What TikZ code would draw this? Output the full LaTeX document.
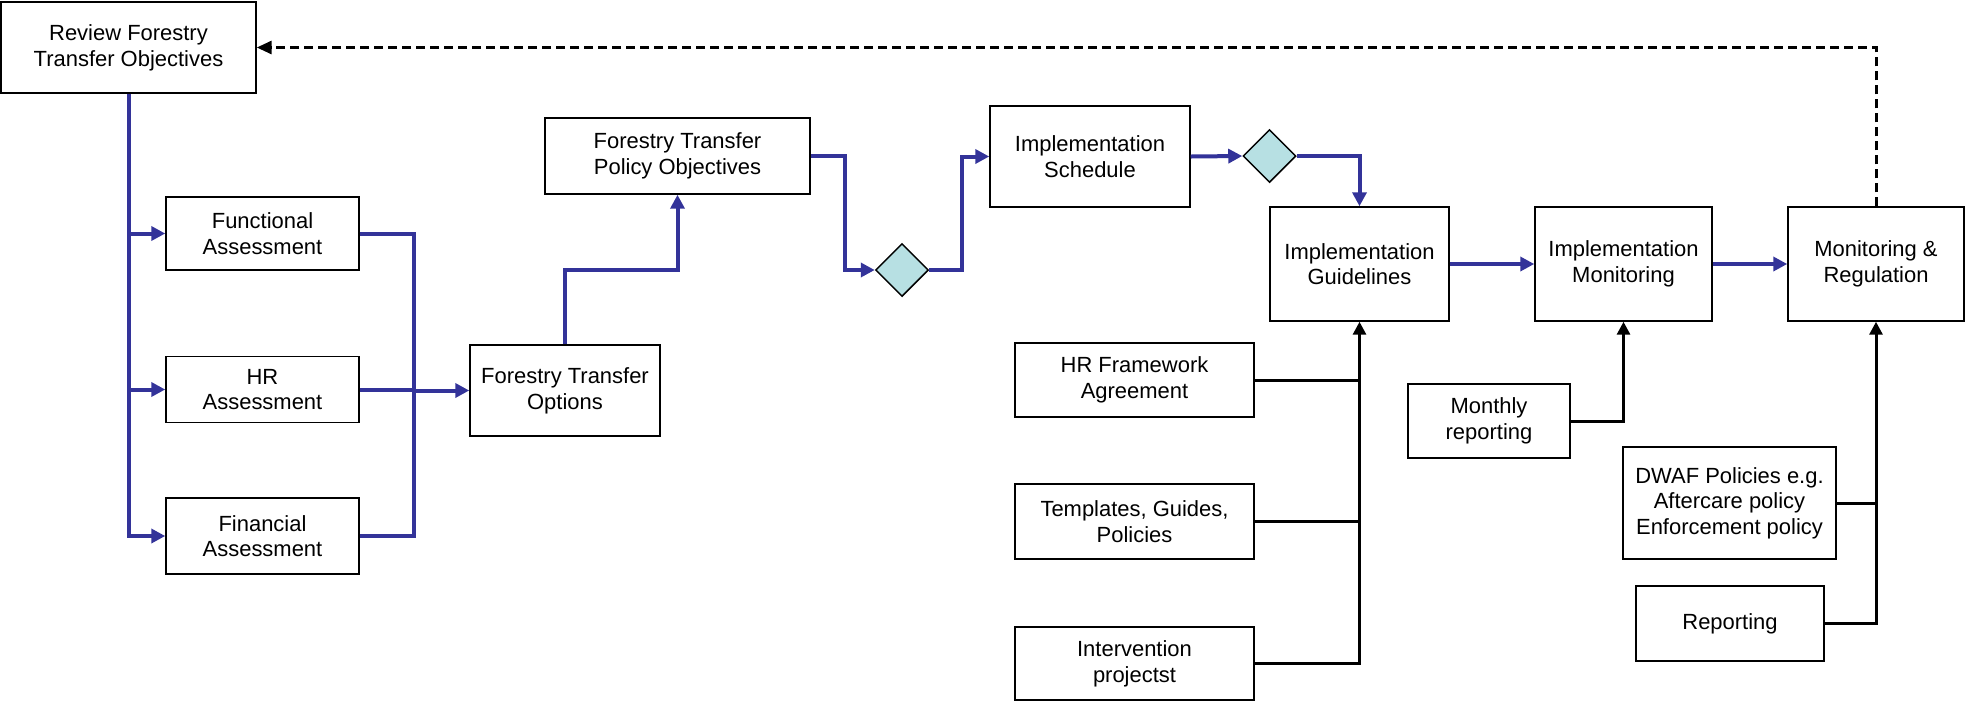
\documentclass[tikz,border=0pt]{standalone}
\usepackage{fontspec}
\setmainfont{Liberation Sans}
\usetikzlibrary{shapes.geometric, arrows.meta}
\definecolor{flowblue}{RGB}{51,51,153}
\definecolor{gatecyan}{RGB}{183,224,227}
\tikzstyle{stage} = [rectangle, draw=black, line width=0.03cm, align=center, inner sep=2pt]
\tikzstyle{gate} = [diamond, draw=black, line width=0.03cm, fill=gatecyan, minimum width=1.06cm, minimum height=1.06cm, inner sep=0pt]
\tikzstyle{flow} = [draw=flowblue, line width=0.08cm, -{Triangle[length=0.28cm, width=0.28cm]}]
\tikzstyle{flowline} = [draw=flowblue, line width=0.08cm]
\tikzstyle{feed} = [draw=black, line width=0.06cm, -{Triangle[length=0.26cm, width=0.26cm]}]
\tikzstyle{feedline} = [draw=black, line width=0.06cm]
\tikzstyle{back} = [draw=black, line width=0.06cm, dash pattern=on 0.18cm off 0.1cm, -{Triangle[length=0.3cm, width=0.26cm]}]

\begin{document}
\begin{tikzpicture}[x=0.02cm, y=-0.02cm, font=\fontsize{12.5}{14.6}\selectfont]
\useasboundingbox (0,0) rectangle (1965,701);

\node (review) [stage, minimum width=5.10cm, minimum height=1.82cm] at (128.5,47.5) {Review Forestry\\Transfer Objectives};
\node (functional) [stage, minimum width=3.86cm, minimum height=1.46cm] at (262.5,233.5) {Functional\\Assessment};
\node (hr) [stage, minimum width=3.86cm, minimum height=1.32cm] at (262.5,389.5) {HR\\Assessment};
\node (financial) [stage, minimum width=3.86cm, minimum height=1.52cm] at (262.5,536) {Financial\\Assessment};
\node (options) [stage, minimum width=3.80cm, minimum height=1.82cm] at (565,390.5) {Forestry Transfer\\Options};
\node (policy) [stage, minimum width=5.30cm, minimum height=1.52cm] at (677.5,156) {Forestry Transfer\\Policy Objectives};
\node (gateA) [gate] at (902,270) {};
\node (schedule) [stage, minimum width=4.00cm, minimum height=2.02cm] at (1090,156.5) {Implementation\\Schedule};
\node (gateB) [gate] at (1269.5,156) {};
\node (guidelines) [stage, minimum width=3.58cm, minimum height=2.28cm] at (1359.5,264) {Implementation\\Guidelines};
\node (monitoring) [stage, minimum width=3.54cm, minimum height=2.28cm] at (1623.5,264) {Implementation\\Monitoring};
\node (regulation) [stage, minimum width=3.52cm, minimum height=2.28cm] at (1876,264) {Monitoring \&\\Regulation};
\node (hrframework) [stage, minimum width=4.78cm, minimum height=1.48cm] at (1134.5,380) {HR Framework\\Agreement};
\node (templates) [stage, minimum width=4.78cm, minimum height=1.50cm] at (1134.5,521.5) {Templates, Guides,\\Policies};
\node (intervention) [stage, minimum width=4.78cm, minimum height=1.46cm] at (1134.5,663.5) {Intervention\\projectst};
\node (monthly) [stage, minimum width=3.24cm, minimum height=1.48cm] at (1489,421) {Monthly\\reporting};
\node (dwaf) [stage, minimum width=4.26cm, minimum height=2.24cm] at (1729.5,503) {DWAF Policies e.g.\\Aftercare policy\\Enforcement policy};
\node (reporting) [stage, minimum width=3.76cm, minimum height=1.50cm] at (1730,623.5) {Reporting};
\coordinate (merge) at (414,390);

\draw [flow] (review.south) |- (financial.west);
\draw [flow] (review.south |- functional.west) -- (functional.west);
\draw [flow] (review.south |- hr.west) -- (hr.west);
\draw [flowline] (functional.east) -| (merge |- financial.east) -- (financial.east);
\draw [flowline] (hr.east) -- (merge |- hr.east);
\draw [flow] (merge |- options.west) -- (options.west);
\draw [flow] (options.north) -- (options.north |- gateA) -- (policy.south |- gateA) -- (policy.south);
\draw [flow] (policy.east) -- ++(34,0) |- (gateA.west);
\draw [flow] (gateA.east) -- ++(33,0) |- (schedule.west);
\draw [flow] (schedule.east) -- (gateB.west);
\draw [flow] (gateB.east) -| (guidelines.north);
\draw [flow] (guidelines.east) -- (monitoring.west);
\draw [flow] (monitoring.east) -- (regulation.west);
\draw [feed] (intervention.east) -| (guidelines.south);
\draw [feedline] (hrframework.east) -- (hrframework.east -| guidelines.south);
\draw [feedline] (templates.east) -- (templates.east -| guidelines.south);
\draw [feed] (monthly.east) -| (monitoring.south);
\draw [feed] (reporting.east) -| (regulation.south);
\draw [feedline] (dwaf.east) -- (dwaf.east -| regulation.south);
\draw [back] (regulation.north) |- (review.east);

\end{tikzpicture}
\end{document}
